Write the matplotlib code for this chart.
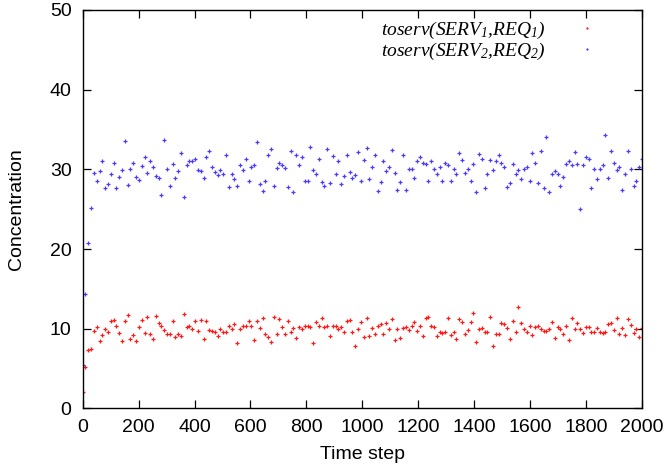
import numpy as np
import matplotlib
matplotlib.use("Agg")
import matplotlib.pyplot as plt

plt.rcParams.update({"font.family": "Liberation Sans",
                     "mathtext.fontset": "custom",
                     "mathtext.it": "Liberation Serif:italic",
                     "mathtext.rm": "Liberation Serif:italic"})

# time grid: 200 samples across the 0..2000 run
steps = np.linspace(0, 2000, 200)

# toserv(SERV1,REQ1)  -- red
serv1 = [
    2.0, 5.15, 7.33, 7.4, 9.7, 10.2, 8.5, 9.2, 10.0, 9.6,
    11.0, 11.1, 10.3, 9.5, 8.5, 11.0, 11.7, 8.7, 9.2, 8.5,
    10.2, 11.1, 9.4, 11.5, 9.3,
    8.7, 11.6, 10.7, 10.4, 9.8, 9.3, 9.3, 11.0, 8.9, 9.3,
    9.1, 11.8, 10.2, 10.4, 10.0, 11.0, 9.7, 11.1, 8.7, 11.0,
    9.8, 9.7, 9.6, 9.1, 9.9,
    9.55, 9.6, 10.4, 9.9, 10.6, 8.2, 10.0, 10.3, 10.3, 11.0,
    10.4, 8.6, 11.0, 10.1, 11.4, 9.3, 8.9, 8.3, 11.5, 9.3,
    11.2, 10.2, 9.3, 11.0, 9.6,
    10.1, 8.8, 10.2, 9.9, 10.3, 10.4, 10.2, 8.2, 10.9, 10.4,
    11.3, 10.2, 10.3, 9.05, 10.3, 10.4, 10.0, 10.2, 9.55, 11.0,
    11.1, 9.55, 7.8, 10.0, 10.9,
    8.9, 11.4, 9.05, 10.1, 9.3, 10.3, 10.65, 9.3, 10.7, 10.0,
    11.2, 8.55, 10.0, 8.8, 10.1, 10.2, 9.8, 10.4, 10.8, 9.7,
    10.3, 9.05, 11.3, 11.5, 10.3,
    10.2, 9.05, 9.6, 9.4, 9.6, 11.3, 9.2, 9.55, 8.7, 11.2,
    10.8, 9.3, 9.8, 10.8, 12.0, 8.3, 9.9, 10.1, 9.55, 9.6,
    11.5, 7.8, 9.3, 9.3, 10.7,
    10.6, 10.1, 8.7, 11.0, 9.55, 12.7, 10.7, 9.9, 9.6, 10.3,
    9.2, 10.2, 10.3, 9.9, 9.7, 9.7, 10.0, 10.8, 8.8, 10.2,
    9.9, 9.3, 10.3, 8.6, 11.3,
    10.0, 10.7, 9.9, 9.4, 10.2, 10.2, 9.6, 9.6, 10.1, 9.6,
    9.4, 9.6, 10.6, 10.7, 9.8, 11.3, 9.3, 10.1, 9.2, 11.2,
    10.5, 9.4, 9.9, 8.9, 10.1,
]

# toserv(SERV2,REQ2)  -- blue
serv2 = [
    5.5, 14.4, 20.8, 25.1, 29.6, 28.5, 29.75, 31.1, 27.7, 28.2,
    29.4, 30.8, 27.7, 29.0, 29.9, 33.6, 28.0, 30.0, 30.8, 29.0,
    28.7, 30.4, 31.5, 29.5, 31.1,
    30.25, 29.2, 28.9, 26.75, 33.65, 30.05, 27.9, 30.7, 28.9, 29.75,
    32.05, 26.5, 30.5, 31.0, 31.0, 31.3, 29.9, 29.75, 28.95, 31.5,
    32.35, 30.25, 29.7, 29.25, 29.9,
    29.45, 31.8, 27.8, 29.4, 28.75, 27.95, 30.6, 29.9, 31.35, 28.5,
    30.25, 30.5, 33.45, 28.2, 27.3, 28.5, 31.85, 32.6, 27.9, 30.2,
    30.85, 30.6, 30.2, 27.8, 32.3,
    27.1, 31.8, 30.5, 31.5, 28.5, 28.5, 32.75, 29.9, 29.4, 31.35,
    28.4, 27.9, 32.55, 28.25, 31.7, 29.4, 31.05, 28.1, 29.15, 31.8,
    29.7, 28.95, 29.25, 32.2, 28.55,
    31.15, 32.65, 28.75, 30.25, 31.8, 27.25, 28.4, 31.0, 29.75, 30.25,
    32.4, 29.55, 27.4, 28.4, 31.8, 27.45, 30.05, 30.1, 28.9, 31.0,
    31.55, 30.85, 30.7, 28.5, 31.0,
    30.1, 29.4, 30.35, 28.5, 30.85, 30.5, 28.55, 30.1, 29.4, 32.05,
    31.15, 29.6, 30.05, 28.55, 30.7, 27.1, 31.95, 31.35, 27.6, 29.4,
    31.15, 29.9, 31.0, 31.8, 30.76,
    30.25, 27.75, 28.25, 30.7, 29.4, 29.9, 28.75, 30.05, 30.35, 28.55,
    32.05, 30.85, 28.25, 32.3, 27.6, 34.1, 27.1, 29.4, 29.75, 29.45,
    27.95, 29.05, 30.7, 31.0, 30.55,
    32.15, 30.7, 25.07, 30.55, 31.5, 31.3, 27.6, 30.05, 28.75, 30.05,
    30.5, 34.3, 28.9, 32.3, 30.8, 29.9, 30.25, 27.45, 29.45, 32.3,
    30.05, 27.95, 28.55, 30.25, 31.35,
]

fig = plt.figure(figsize=(6.69, 4.73), dpi=100)
ax = fig.add_axes([0.1236, 0.1366, 0.8360, 0.8424])

ax.plot(steps, serv1, "+", color="#ff1a1a", ms=3, mew=0.9, ls="none",
        label=r"$\mathit{toserv(SERV_1{,}REQ_1)}$")
ax.plot(steps, serv2, "+", color="#4a3cff", ms=3, mew=0.9, ls="none",
        label=r"$\mathit{toserv(SERV_2{,}REQ_2)}$")

ax.set_xlim(0, 2000)
ax.set_ylim(0, 50)
ax.set_xticks(np.arange(0, 2001, 200))
ax.set_yticks(np.arange(0, 51, 10))
ax.tick_params(direction="in", length=6, width=0.9, top=True, right=True,
               labelsize=14, pad=8)
for s in ax.spines.values():
    s.set_linewidth(1.0)

ax.set_xlabel("Time step", fontsize=14, labelpad=7)
ax.set_ylabel("Concentration", fontsize=14, labelpad=18)

leg = ax.legend(loc="upper right", bbox_to_anchor=(0.95, 1.02), frameon=False,
                markerfirst=False, fontsize=14, handlelength=1.0,
                handletextpad=1.6, labelspacing=0.0, markerscale=0.7)

fig.savefig("out.png", dpi=100)
